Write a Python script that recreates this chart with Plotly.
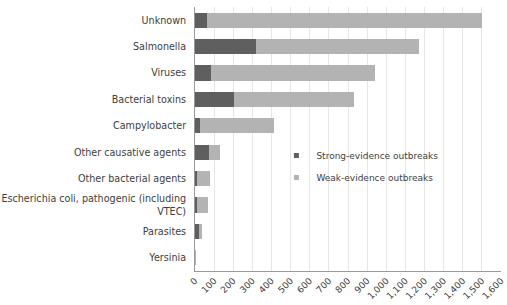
import plotly.graph_objects as go

categories = ["Unknown", "Salmonella", "Viruses", "Bacterial toxins", "Campylobacter",
              "Other causative agents", "Other bacterial agents",
              "Escherichia coli, pathogenic (including<br>VTEC)", "Parasites", "Yersinia"]
strong = [63, 318, 84, 205, 24, 73, 8, 10, 20, 2]
weak_total = [1502, 1172, 941, 832, 413, 131, 78, 68, 37, 4]
weak = [t - s for t, s in zip(weak_total, strong)]
series_names = ["Strong-evidence outbreaks", "Weak-evidence outbreaks"]
series_colors = ["#5f5f5f", "#b3b3b3"]
tick_vals = list(range(0, 1700, 100))
tick_text = [f"{v:,}" for v in tick_vals]

fig = go.Figure()
for vals, name, col in zip([strong, weak], series_names, series_colors):
    fig.add_trace(go.Bar(y=categories, x=vals, orientation="h", name=name,
                         marker=dict(color=col, line=dict(width=0)), showlegend=False))
# legend entries with small square symbols
for name, col in zip(series_names, series_colors):
    fig.add_trace(go.Scatter(x=[None], y=[None], mode="markers", name=name, legendgroup=name,
                             marker=dict(symbol="square", size=5, color=col)))

fig.update_layout(
    width=507, height=305,
    barmode="stack", bargap=0.43,
    margin=dict(l=195, r=6, t=7, b=34),
    paper_bgcolor="white", plot_bgcolor="white",
    font=dict(family="DejaVu Sans, sans-serif", size=10, color="#404040"),
    showlegend=True,
    legend=dict(x=0.266, y=0.492, xanchor="left", yanchor="top", bgcolor="rgba(0,0,0,0)",
                font=dict(size=9, color="#404040"), itemwidth=30, tracegroupgap=3,
                traceorder="grouped"),
    xaxis=dict(range=[0, 1600], tickvals=tick_vals, ticktext=tick_text, tickangle=-45,
               showgrid=True, gridcolor="#e6e6e6", gridwidth=1, zeroline=False,
               showline=True, linecolor="#999999", linewidth=1, ticks="", automargin=False,
               tickfont=dict(size=9, color="#404040")),
    yaxis=dict(categoryorder="array", categoryarray=categories[::-1], autorange=True,
               showline=True, linecolor="#999999", linewidth=1, ticks="", automargin=False,
               ticklabelstandoff=6, tickfont=dict(size=9.6, color="#404040")),
)
fig.write_html("out.html")
